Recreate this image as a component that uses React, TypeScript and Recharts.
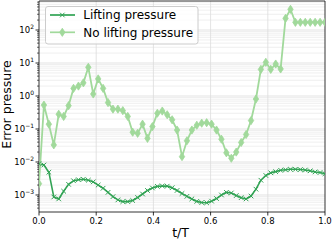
import React from 'react';
import { LineChart, Line, XAxis, YAxis, CartesianGrid, ReferenceArea, Legend, Label } from 'recharts';

const FONT = 'DejaVu Sans';
const DARK = '#31a354';
const LIGHT = '#a1d99b';

const liftingPressure = [
  0.0089, 0.0081, 0.0049, 0.00087, 0.00076, 0.0013, 0.0021, 0.0027, 0.0029, 0.003,
  0.0028, 0.0025, 0.002, 0.0016, 0.0012, 0.00089, 0.00071, 0.00063, 0.00063, 0.00068,
  0.00084, 0.00107, 0.00137, 0.00163, 0.00182, 0.00188, 0.00185, 0.00166, 0.00137, 0.00111,
  0.00091, 0.00076, 0.00064, 0.00059, 0.00058, 0.00065, 0.00078, 0.001, 0.0012, 0.00115,
  0.00096, 0.00083, 0.00076, 0.00093, 0.0015, 0.0028, 0.0039, 0.0047, 0.0051, 0.0056,
  0.0058, 0.006, 0.006, 0.0059, 0.0057, 0.0054, 0.005, 0.0048, 0.0044,
];

const noLiftingPressure = [
  0.0022, 0.53, 0.14, 0.033, 0.28, 0.24, 0.51, 1.7, 2.0, 2.5,
  7.4, 1.15, 3.3, 1.7, 0.63, 0.4, 0.4, 0.36, 0.24, 0.08,
  0.074, 0.14, 0.052, 0.118, 0.3, 0.35, 0.27, 0.19, 0.093, 0.0145,
  0.044, 0.093, 0.13, 0.15, 0.155, 0.14, 0.093, 0.049, 0.019, 0.013,
  0.02, 0.039, 0.068, 0.18, 0.81, 6.4, 10.5, 6.4, 9.3, 6.6,
  226, 424, 171, 171, 171, 171, 171, 171, 171,
];

const xTicks = [0, 0.2, 0.4, 0.6, 0.8, 1.0];
const xGridValues = [0.2, 0.4, 0.6, 0.8];
const yMajorTicks = [1e-3, 1e-2, 1e-1, 1, 10, 100];
const yMinorTicks = [
  4e-4, 5e-4, 6e-4, 7e-4, 8e-4, 9e-4,
  2e-3, 3e-3, 4e-3, 5e-3, 6e-3, 7e-3, 8e-3, 9e-3,
  2e-2, 3e-2, 4e-2, 5e-2, 6e-2, 7e-2, 8e-2, 9e-2,
  0.2, 0.3, 0.4, 0.5, 0.6, 0.7, 0.8, 0.9,
  2, 3, 4, 5, 6, 7, 8, 9,
  20, 30, 40, 50, 60, 70, 80, 90,
  200, 300, 400, 500, 600, 700,
];
const yDomain: [number, number] = [3.05e-4, 757];
const allYTicks = [...yMajorTicks, ...yMinorTicks].sort((a, b) => a - b);

const data = liftingPressure.map((v, i) => ({
  t: i / (liftingPressure.length - 1),
  lifting: v,
  noLifting: noLiftingPressure[i],
}));

const YTick = (props: any) => {
  const { x, y, payload } = props;
  const v = payload.value;
  const lg = Math.log10(v);
  const exp = Math.round(lg);
  const isMajor = Math.abs(lg - exp) < 1e-6;
  return (
    <g>
      <line x1={x - (isMajor ? 3.5 : 2)} x2={x} y1={y} y2={y} stroke="#000" strokeWidth={isMajor ? 0.8 : 0.6} />
      {isMajor && (
        <text x={x - 5} y={y} dy="0.35em" textAnchor="end" fontSize={8.5} fill="#000" fontFamily={FONT}>
          10
          <tspan fontSize={6} dy="-0.6em">{exp < 0 ? '\u2212' + -exp : String(exp)}</tspan>
        </text>
      )}
    </g>
  );
};

const XMarker = (props: any) => {
  const { cx, cy, index } = props;
  if (cx == null || cy == null) return <g key={`lx-${index}`} />;
  const s = 2.3;
  return (
    <path
      key={`lx-${index}`}
      d={`M${cx - s},${cy - s}L${cx + s},${cy + s}M${cx - s},${cy + s}L${cx + s},${cy - s}`}
      stroke={DARK}
      strokeWidth={1}
      fill="none"
    />
  );
};

const DiamondMarker = (props: any) => {
  const { cx, cy, index } = props;
  if (cx == null || cy == null) return <g key={`ld-${index}`} />;
  const w = 2.7;
  const h = 4.1;
  return (
    <path
      key={`ld-${index}`}
      d={`M${cx},${cy - h}L${cx + w},${cy}L${cx},${cy + h}L${cx - w},${cy}Z`}
      fill={LIGHT}
      stroke={LIGHT}
      strokeWidth={0.8}
    />
  );
};

const legendItems = [
  { label: 'Lifting pressure', color: DARK, marker: 'x' },
  { label: 'No lifting pressure', color: LIGHT, marker: 'd' },
];

const LegendContent = () => (
  <svg width={154} height={39} style={{ display: 'block' }}>
    <rect x={0.5} y={0.5} width={152.5} height={37.5} rx={2.5} fill="#fff" fillOpacity={0.8} stroke="#cccccc" strokeWidth={1} />
    {legendItems.map((it, i) => {
      const cy = 9 + i * 17.3;
      const mx = 17.3;
      return (
        <g key={it.label}>
          <line x1={5} x2={30} y1={cy} y2={cy} stroke={it.color} strokeWidth={1.7} />
          {it.marker === 'x' ? (
            <path d={`M${mx - 2.3},${cy - 2.3}L${mx + 2.3},${cy + 2.3}M${mx - 2.3},${cy + 2.3}L${mx + 2.3},${cy - 2.3}`} stroke={it.color} strokeWidth={1} />
          ) : (
            <path d={`M${mx},${cy - 4.1}L${mx + 2.7},${cy}L${mx},${cy + 4.1}L${mx - 2.7},${cy}Z`} fill={it.color} stroke={it.color} strokeWidth={0.8} />
          )}
          <text x={38.3} y={cy} dy="0.35em" fontSize={12} fontFamily={FONT} fill="#000">
            {it.label}
          </text>
        </g>
      );
    })}
  </svg>
);

export default function App() {
  return (
    <div style={{ width: 332, height: 241, background: '#fff' }}>
      <style>{'body{margin:0}'}</style>
      <LineChart
        width={332}
        height={241}
        data={data}
        margin={{ top: 1, right: 7, bottom: 0, left: 0 }}
      >
        <CartesianGrid horizontalValues={yMinorTicks} vertical={false} stroke="#ebebeb" strokeWidth={0.8} />
        <CartesianGrid horizontalValues={yMajorTicks} verticalValues={xGridValues} stroke="#dcdcdc" strokeWidth={0.8} />
        <XAxis
          dataKey="t"
          type="number"
          domain={[0, 1]}
          allowDataOverflow
          ticks={xTicks}
          interval={0}
          tickFormatter={(v: number) => v.toFixed(1)}
          tick={{ fontSize: 8.5, fill: '#000', fontFamily: FONT }}
          tickLine={{ stroke: '#000', strokeWidth: 0.8 }}
          tickSize={3.5}
          tickMargin={2}
          axisLine={false}
          height={29}
        >
          <Label
            content={(p: any) => {
              const vb = p.viewBox;
              return (
                <text x={vb.x + vb.width / 2 - 1.5} y={vb.y + 25} textAnchor="middle" fontSize={12.5} fontFamily={FONT} fill="#000">
                  t/T
                </text>
              );
            }}
          />
        </XAxis>
        <YAxis
          type="number"
          scale="log"
          domain={yDomain}
          allowDataOverflow
          ticks={allYTicks}
          interval={0}
          tick={YTick}
          tickLine={false}
          tickSize={0}
          tickMargin={0}
          axisLine={false}
          width={39}
        >
          <Label
            content={(p: any) => {
              const vb = p.viewBox;
              const x = vb.x + 10.5;
              const y = vb.y + vb.height / 2 - 2;
              return (
                <text x={x} y={y} transform={`rotate(-90, ${x}, ${y})`} textAnchor="middle" fontSize={12.5} fontFamily={FONT} fill="#000">
                  Error pressure
                </text>
              );
            }}
          />
        </YAxis>
        <ReferenceArea x1={0} x2={1} y1={yDomain[0]} y2={yDomain[1]} fill="none" stroke="#000" strokeWidth={0.8} ifOverflow="visible" />
        <Line dataKey="lifting" stroke={DARK} strokeWidth={1.6} dot={XMarker} activeDot={false} isAnimationActive={false} />
        <Line dataKey="noLifting" stroke={LIGHT} strokeWidth={1.8} dot={DiamondMarker} activeDot={false} isAnimationActive={false} />
        <Legend
          content={LegendContent}
          layout="vertical"
          align="center"
          verticalAlign="middle"
          wrapperStyle={{ left: 45, top: 6, width: 154, height: 39 }}
        />
      </LineChart>
    </div>
  );
}
